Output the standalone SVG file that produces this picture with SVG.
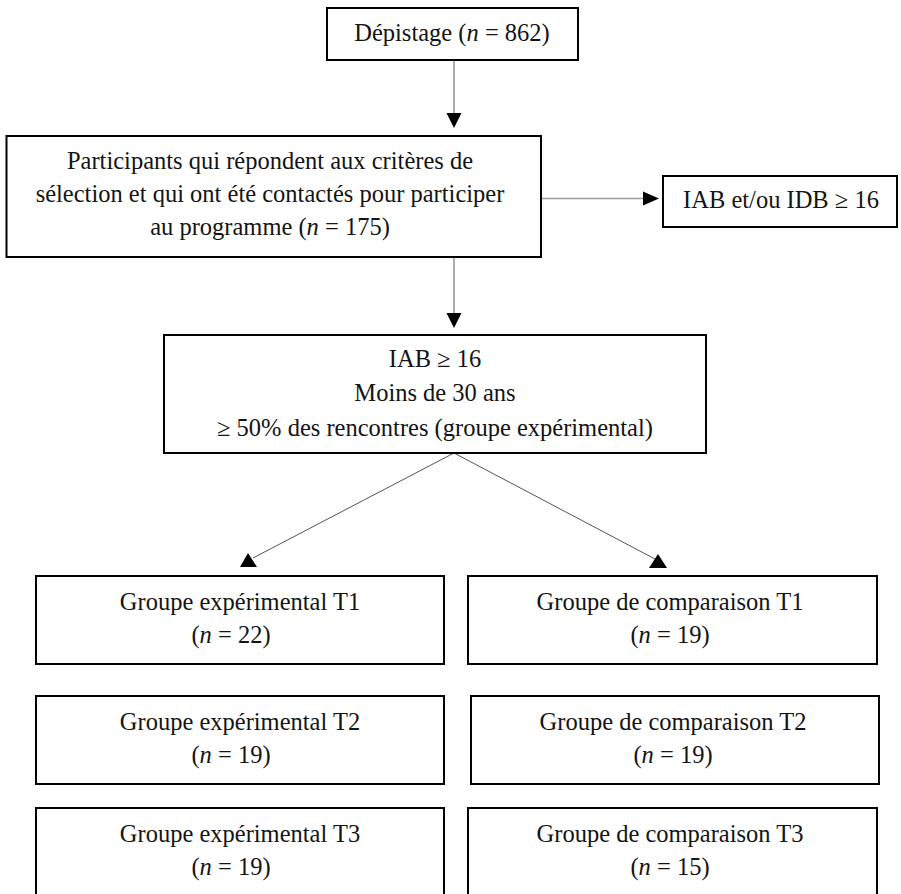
<svg xmlns="http://www.w3.org/2000/svg" width="901" height="894" viewBox="0 0 901 894">
<style>
  .box { fill: #ffffff; stroke: #000000; stroke-width: 2; }
  .t { font-family: "Liberation Serif", "Times New Roman", serif; font-size: 24.5px; fill: #141414; text-anchor: middle; }
  .i { font-style: italic; }
  .ln { stroke: #999999; stroke-width: 1.6; fill: none; }
  .dg { stroke: #555555; stroke-width: 1; fill: none; }
  .ah { fill: #000000; stroke: none; }
</style>
<rect width="901" height="894" fill="#ffffff"/>

<g id="connectors">
  <line class="ln" x1="454" y1="60" x2="454" y2="114"/>
  <polygon class="ah" points="446.5,113 461.5,113 454,128"/>
  <line class="ln" x1="454" y1="257" x2="454" y2="314"/>
  <polygon class="ah" points="446.5,313 461.5,313 454,328"/>
  <line class="ln" x1="541" y1="198.5" x2="644" y2="198.5"/>
  <polygon class="ah" points="643,191.5 643,205.5 659,198.5"/>
  <line class="dg" x1="454" y1="453" x2="253" y2="558"/>
  <polygon class="ah" points="248,553 240,567 257,567"/>
  <line class="dg" x1="454" y1="453" x2="655" y2="559"/>
  <polygon class="ah" points="658,554 649,568 667,568"/>
</g>

<g id="depistage">
  <rect class="box" x="327" y="8" width="251" height="52"/>
  <text class="t" x="452" y="41">Dépistage (<tspan class="i">n</tspan> = 862)</text>
</g>

<g id="participants">
  <rect class="box" x="6.5" y="136" width="534.5" height="121"/>
  <text class="t" x="270" y="169">Participants qui répondent aux critères de</text>
  <text class="t" x="270" y="202">sélection et qui ont été contactés pour participer</text>
  <text class="t" x="270" y="235">au programme (<tspan class="i">n</tspan> = 175)</text>
</g>

<g id="exclus">
  <rect class="box" x="663" y="176" width="234" height="51"/>
  <text class="t" x="781" y="208">IAB et/ou IDB ≥ 16</text>
</g>

<g id="criteres">
  <rect class="box" x="164" y="335" width="542" height="118"/>
  <text class="t" x="435" y="367">IAB ≥ 16</text>
  <text class="t" x="435" y="401">Moins de 30 ans</text>
  <text class="t" x="435" y="436">≥ 50% des rencontres (groupe expérimental)</text>
</g>

<g id="exp-t1">
  <rect class="box" x="36" y="576" width="408" height="88"/>
  <text class="t" x="240" y="610">Groupe expérimental T1</text>
  <text class="t" x="231" y="643">(<tspan class="i">n</tspan> = 22)</text>
</g>

<g id="comp-t1">
  <rect class="box" x="468" y="576" width="409" height="88"/>
  <text class="t" x="670" y="610">Groupe de comparaison T1</text>
  <text class="t" x="670" y="643">(<tspan class="i">n</tspan> = 19)</text>
</g>

<g id="exp-t2">
  <rect class="box" x="36" y="696" width="408" height="88"/>
  <text class="t" x="240" y="730">Groupe expérimental T2</text>
  <text class="t" x="231" y="763">(<tspan class="i">n</tspan> = 19)</text>
</g>

<g id="comp-t2">
  <rect class="box" x="471" y="696" width="408" height="88"/>
  <text class="t" x="673" y="730">Groupe de comparaison T2</text>
  <text class="t" x="673" y="763">(<tspan class="i">n</tspan> = 19)</text>
</g>

<g id="exp-t3">
  <rect class="box" x="36" y="808" width="408" height="100"/>
  <text class="t" x="240" y="842">Groupe expérimental T3</text>
  <text class="t" x="231" y="875">(<tspan class="i">n</tspan> = 19)</text>
</g>

<g id="comp-t3">
  <rect class="box" x="468" y="808" width="409" height="100"/>
  <text class="t" x="670" y="842">Groupe de comparaison T3</text>
  <text class="t" x="670" y="875">(<tspan class="i">n</tspan> = 15)</text>
</g>
</svg>
